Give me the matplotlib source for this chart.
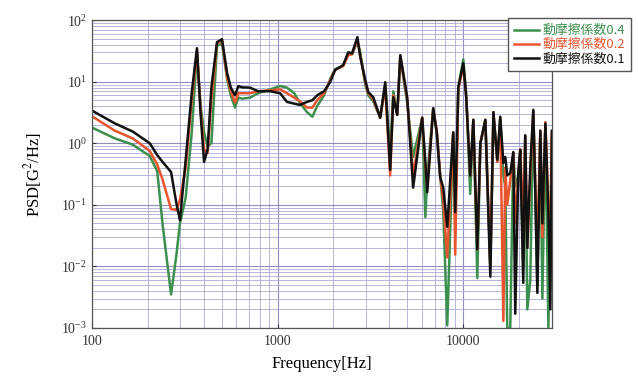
import numpy as np
import matplotlib
matplotlib.use("Agg")
from matplotlib import pyplot as plt
from matplotlib import ticker

plt.rcParams['font.family'] = ['Liberation Serif', 'DejaVu Serif']
plt.rcParams['mathtext.fontset'] = 'stix'

# frequency grid [Hz]
FREQ = [100, 133, 166, 205, 225, 240, 267, 285, 298, 320, 345, 368, 385, 402, 420, 440,
        472, 502, 535, 560, 590, 615, 643, 711, 785, 912, 1032, 1123, 1230, 1320, 1440,
        1540, 1633, 1780, 1918, 2040, 2255, 2400, 2520, 2690, 2790, 2965, 3078, 3275, 3570,
        3800, 4040, 4200, 4410, 4580, 4990, 5370, 6010, 6250, 6400, 6890, 7200, 7510, 7800,
        8200, 8830, 9050, 9400, 10000, 10370, 10900, 11330, 11900, 12360, 13150, 13990,
        14530, 15250, 15820, 16440, 16840, 17250, 17910, 18600, 19050, 19780, 20270, 21040,
        21560, 22120, 22950, 23830, 24420, 25050, 26000, 26670, 27680, 28730, 29440, 30000]

# friction coefficient 0.1 (black)
PSD_01 = [3.4, 2.1, 1.55, 1.0, 0.64, 0.5, 0.34, 0.107, 0.056, 0.54, 6.6, 35, 3, 0.5, 0.8, 8,
          44, 49, 13.8, 8, 6, 8.5, 8.1, 8, 7, 7, 6.5, 4.7, 4.4, 4.2, 4.7,
          5, 6, 7, 9.8, 15.5, 18.6, 30, 29, 53, 25, 10.7, 6.8, 5.6, 2.6,
          9.8, 0.37, 5.6, 2.9, 27, 5.6, 0.19, 2.6, 0.5, 0.16, 3.7, 1.5, 0.28, 0.19,
          0.044, 1.5, 0.076, 8.1, 20, 5.6, 0.3, 2.4, 0.019, 1.0, 2.4, 0.0068,
          3.2, 0.54, 2.7, 0.48, 0.6, 0.3, 0.33, 0.72, 0.0017, 0.33, 0.78, 0.0054,
          1.35, 0.02, 0.41, 3.5, 0.17, 0.0037, 1.6, 0.05, 2.1, 0.074, 0.002, 1.6]

# friction coefficient 0.2 (red)
PSD_02 = [2.75, 1.6, 1.2, 0.75, 0.45, 0.26, 0.085, 0.083, 0.12, 0.4, 5, 32, 3.5, 0.8, 0.7, 5,
          42, 47, 12, 7, 4.6, 6.5, 6.5, 6.5, 7, 7.2, 7.5, 6.5, 5.5, 4.8, 3.8,
          3.8, 5, 6.5, 10.5, 15.5, 18, 27, 28, 48, 26, 10, 6.5, 5.2, 2.6,
          8, 0.3, 6, 2.9, 26, 5.2, 0.3, 2.6, 0.4, 0.2, 3.7, 1.6, 0.3, 0.12,
          0.014, 1.5, 0.0155, 7.5, 18, 5.8, 0.3, 2.4, 0.019, 1.0, 2.4, 0.01,
          3.2, 0.5, 2.5, 0.0013, 0.4, 0.1, 0.25, 0.7, 0.05, 0.3, 0.8, 0.05,
          1.3, 0.02, 0.3, 3.2, 0.2, 0.02, 1.6, 0.03, 2.2, 0.1, 0.03, 1.5]

# friction coefficient 0.4 (green)
PSD_04 = [1.8, 1.2, 0.95, 0.62, 0.35, 0.05, 0.0035, 0.015, 0.05, 0.13, 1.5, 30, 4, 1.5, 0.9, 1.0,
          38, 42, 11, 6, 3.8, 5.5, 5.3, 5.5, 6.5, 7.5, 8.5, 8, 6.5, 4.5, 3.2,
          2.7, 4, 6, 11, 16, 18, 27, 28, 45, 30, 9, 6, 4.8, 2.6,
          9, 0.7, 7, 2.9, 25, 4.5, 0.6, 2.6, 0.063, 0.3, 3.7, 1.4, 0.3, 0.08,
          0.0011, 1.5, 0.076, 8, 23, 6.5, 0.15, 2.4, 0.0065, 1.0, 2.4, 0.01,
          3, 0.5, 2.5, 0.3, 0.2, 0.001, 0.001, 0.7, 0.2, 0.3, 0.7, 0.01,
          1.3, 0.002, 0.006, 3.2, 0.2, 0.005, 1.5, 0.003, 2, 0.001, 0.05, 1.2]

LABELS = ["動摩擦係数0.4", "動摩擦係数0.2", "動摩擦係数0.1"]
COLORS = ["#3d8f4e", "#e8542e", "#111111"]

fig = plt.figure(figsize=(6.38, 3.8), dpi=100)
ax = fig.add_axes([0.144, 0.137, 0.721, 0.81])

for series, label, color in zip([PSD_04, PSD_02, PSD_01], LABELS, COLORS):
    ax.plot(FREQ, series, color=color, lw=1.8, label=label)

ax.set_xscale('log')
ax.set_yscale('log')
ax.set_xlim(100, 30000)
ax.set_ylim(1e-3, 1e2)

ax.grid(True, which='major', color='#8f8fc4', lw=0.8)
ax.grid(True, which='minor', color='#a9a9d6', lw=0.6)
ax.set_axisbelow(True)

ax.xaxis.set_major_formatter(ticker.FuncFormatter(lambda v, p: f"{int(round(v))}"))
ax.xaxis.set_minor_formatter(ticker.NullFormatter())
ax.tick_params(which='both', direction='in', labelsize=10, colors='#333333')
ax.tick_params(which='major', length=3)
ax.tick_params(which='minor', length=0)
ax.tick_params(axis='x', pad=5)
for s in ax.spines.values():
    s.set_color('#555555')
    s.set_linewidth(0.9)

ax.set_xlabel("Frequency[Hz]", fontsize=12, labelpad=6)
ax.set_ylabel("PSD[G$^2$/Hz]", fontsize=12, labelpad=12)

leg = fig.legend(loc='upper left', bbox_to_anchor=(0.796, 0.952), frameon=True,
                 fancybox=False, edgecolor='#555555', framealpha=1,
                 handlelength=2.0, handletextpad=0.25, labelspacing=0.1,
                 borderpad=0.45, borderaxespad=0,
                 prop={'family': ['Noto Sans CJK JP', 'DejaVu Sans'], 'size': 9.3})
for text, color in zip(leg.get_texts(), COLORS):
    text.set_color(color)

fig.savefig("out.png", dpi=100)
